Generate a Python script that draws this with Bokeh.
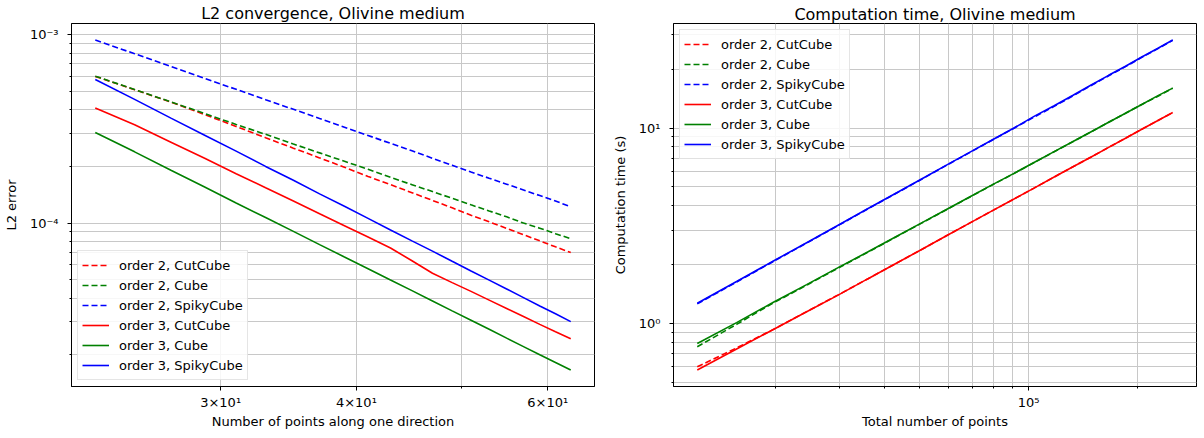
import math
from bokeh.plotting import figure
from bokeh.layouts import row
from bokeh.models import Range1d, FixedTicker, Legend, LegendItem, CustomJSTickFormatter, Title
from bokeh.embed import file_html
from bokeh.resources import INLINE

# ---------------- data ----------------
n_points = [23, 25, 27, 29, 31, 33, 35, 37, 39, 41, 43, 45, 47, 49, 51, 53, 55, 57, 59, 61, 63]

# L2 error
err_o2_cutcube = [6.01e-4, 5.11e-4, 4.39e-4, 3.77e-4, 3.26e-4, 2.84e-4, 2.50e-4, 2.22e-4, 1.98e-4, 1.77e-4,
                  1.60e-4, 1.45e-4, 1.32e-4, 1.205e-4, 1.10e-4, 1.016e-4, 9.38e-5, 8.67e-5, 8.05e-5, 7.48e-5, 6.98e-5]
err_o2_cube = [6.03e-4, 5.12e-4, 4.40e-4, 3.82e-4, 3.34e-4, 2.96e-4, 2.63e-4, 2.36e-4, 2.13e-4, 1.93e-4,
               1.75e-4, 1.60e-4, 1.47e-4, 1.355e-4, 1.25e-4, 1.16e-4, 1.08e-4, 1.00e-4, 9.40e-5, 8.79e-5, 8.26e-5]
err_o2_spiky = [9.38e-4, 7.93e-4, 6.78e-4, 5.87e-4, 5.13e-4, 4.52e-4, 4.02e-4, 3.59e-4, 3.23e-4, 2.92e-4,
                2.65e-4, 2.42e-4, 2.21e-4, 2.03e-4, 1.87e-4, 1.73e-4, 1.61e-4, 1.50e-4, 1.40e-4, 1.31e-4, 1.22e-4]
err_o3_cutcube = [4.09e-4, 3.33e-4, 2.69e-4, 2.21e-4, 1.83e-4, 1.54e-4, 1.31e-4, 1.12e-4, 9.68e-5, 8.43e-5,
                  7.38e-5, 6.31e-5, 5.42e-5, 4.83e-5, 4.34e-5, 3.90e-5, 3.52e-5, 3.19e-5, 2.90e-5, 2.65e-5, 2.43e-5]
err_o3_cube = [3.03e-4, 2.39e-4, 1.91e-4, 1.556e-4, 1.28e-4, 1.07e-4, 9.04e-5, 7.69e-5, 6.61e-5, 5.73e-5,
               4.99e-5, 4.38e-5, 3.86e-5, 3.42e-5, 3.05e-5, 2.73e-5, 2.45e-5, 2.21e-5, 2.00e-5, 1.82e-5, 1.66e-5]
err_o3_spiky = [5.79e-4, 4.54e-4, 3.61e-4, 2.93e-4, 2.41e-4, 2.00e-4, 1.69e-4, 1.43e-4, 1.23e-4, 1.06e-4,
                9.20e-5, 8.05e-5, 7.10e-5, 6.27e-5, 5.57e-5, 4.98e-5, 4.47e-5, 4.02e-5, 3.63e-5, 3.30e-5, 3.00e-5]

# computation time (s)
time_o2_cutcube = [0.60, 0.75, 0.93, 1.15, 1.40, 1.69, 2.02, 2.39, 2.81, 3.27,
                   3.78, 4.33, 4.94, 5.61, 6.34, 7.11, 7.96, 8.87, 9.86, 10.9, 12.0]
time_o2_cube = [0.76, 0.99, 1.27, 1.57, 1.92, 2.31, 2.76, 3.26, 3.82, 4.44,
                5.12, 5.85, 6.67, 7.56, 8.52, 9.56, 10.7, 11.9, 13.2, 14.5, 16.0]
time_o2_spiky = [1.26, 1.63, 2.07, 2.58, 3.17, 3.85, 4.61, 5.47, 6.44, 7.51,
                 8.69, 9.98, 11.4, 12.9, 14.6, 16.5, 18.5, 20.6, 23.0, 25.4, 28.1]
time_o3_cutcube = [0.578, 0.740, 0.929, 1.147, 1.396, 1.69, 2.02, 2.39, 2.81, 3.27,
                   3.78, 4.33, 4.94, 5.61, 6.34, 7.11, 7.96, 8.87, 9.86, 10.9, 12.0]
time_o3_cube = [0.79, 1.01, 1.28, 1.58, 1.93, 2.32, 2.77, 3.27, 3.83, 4.45,
                5.13, 5.86, 6.68, 7.57, 8.53, 9.57, 10.7, 11.9, 13.2, 14.6, 16.0]
time_o3_spiky = [1.27, 1.64, 2.08, 2.59, 3.18, 3.86, 4.62, 5.48, 6.46, 7.53,
                 8.71, 10.0, 11.5, 13.0, 14.7, 16.6, 18.6, 20.7, 23.1, 25.5, 28.2]

total_points = [n ** 3 for n in n_points]

labels = ["order 2, CutCube", "order 2, Cube", "order 2, SpikyCube",
          "order 3, CutCube", "order 3, Cube", "order 3, SpikyCube"]
colors = ["#ff0000", "#008000", "#0000ff", "#ff0000", "#008000", "#0000ff"]
dashes = ["6 3", "6 3", "6 3", "solid", "solid", "solid"]
err_series = [err_o2_cutcube, err_o2_cube, err_o2_spiky, err_o3_cutcube, err_o3_cube, err_o3_spiky]
time_series = [time_o2_cutcube, time_o2_cube, time_o2_spiky, time_o3_cutcube, time_o3_cube, time_o3_spiky]

FONT = "DejaVu Sans"
FRAME_W, FRAME_H = 523, 363

SUP_JS = """
const sup = {"-":"\u207b","0":"\u2070","1":"\u00b9","2":"\u00b2","3":"\u00b3","4":"\u2074",
             "5":"\u2075","6":"\u2076","7":"\u2077","8":"\u2078","9":"\u2079"};
const e = Math.floor(Math.log10(tick) + 1e-9);
const m = Math.round(tick / Math.pow(10, e));
const es = String(e).split("").map(c => sup[c]).join("");
if (m == 1) { return "10" + es; }
return m + "\u00d710" + es;
"""


def log_range(series_list, margin=0.05):
    vals = [v for s in series_list for v in s]
    lo, hi = min(vals), max(vals)
    span = math.log10(hi / lo)
    f = 10 ** (margin * span)
    return Range1d(lo / f, hi * f)


def decade_ticks(lo, hi):
    out = []
    e = math.floor(math.log10(lo)) - 1
    while 10 ** e <= hi * 10:
        for m in range(1, 10):
            v = m * 10 ** e
            if lo <= v <= hi:
                out.append(float(f"{v:.6g}"))
        e += 1
    return out


def make_fig(xs, ys_list, xlabel, ylabel, title, bl, br, title_standoff, ylab_standoff, xmajor, ymajor, legend_loc):
    xr = log_range([xs])
    yr = log_range(ys_list)
    p = figure(frame_width=FRAME_W, frame_height=FRAME_H, x_axis_type="log", y_axis_type="log",
               x_range=xr, y_range=yr, output_backend="svg", toolbar_location=None,
               min_border_left=bl, min_border_right=br, min_border_top=0, min_border_bottom=30)
    p.title = Title(text=title, align="center", text_font=FONT, text_font_size="16px",
                    text_font_style="normal", text_color="#000000", standoff=title_standoff, offset=0)
    p.outline_line_color = "#000000"
    p.outline_line_width = 1
    p.background_fill_color = "white"
    p.border_fill_color = "white"

    xt = decade_ticks(xr.start, xr.end)
    yt = decade_ticks(yr.start, yr.end)
    p.xaxis.ticker = FixedTicker(ticks=xmajor, minor_ticks=[t for t in xt if t not in xmajor])
    p.yaxis.ticker = FixedTicker(ticks=ymajor, minor_ticks=[t for t in yt if t not in ymajor])
    p.xaxis.formatter = CustomJSTickFormatter(code=SUP_JS)
    p.yaxis.formatter = CustomJSTickFormatter(code=SUP_JS)

    for ax in (p.xaxis, p.yaxis):
        ax.major_tick_in = 0
        ax.major_tick_out = 4
        ax.minor_tick_in = 0
        ax.minor_tick_out = 2
        ax.major_label_text_font = FONT
        ax.major_label_text_font_size = "13px"
        ax.major_label_text_color = "#000000"
        ax.axis_label_text_font = FONT
        ax.axis_label_text_font_size = "13px"
        ax.axis_label_text_font_style = "normal"
        ax.axis_label_text_color = "#000000"
        ax.axis_line_color = "#000000"
        ax.major_tick_line_color = "#000000"
        ax.minor_tick_line_color = "#000000"
    p.xaxis.major_label_standoff = 4
    p.yaxis.major_label_standoff = 9
    p.xaxis.axis_label = xlabel
    p.yaxis.axis_label = ylabel
    p.xaxis.axis_label_standoff = 1
    p.yaxis.axis_label_standoff = ylab_standoff

    for g in (p.xgrid, p.ygrid):
        g.grid_line_color = "#c8c8c8"
        g.grid_line_width = 1
        g.minor_grid_line_color = "#c8c8c8"
        g.minor_grid_line_width = 1

    items = []
    for ys, lab, c, d in zip(ys_list, labels, colors, dashes):
        r = p.line(xs, ys, line_color=c, line_width=1.6, line_dash=d)
        items.append(LegendItem(label=lab, renderers=[r]))
    leg = Legend(items=items, location=legend_loc, label_text_font=FONT, label_text_font_size="13px",
                 label_text_color="#000000", label_height=20, glyph_height=20, glyph_width=27,
                 label_standoff=10, spacing=0, padding=4, margin=6,
                 border_line_color="#cccccc", border_line_width=1,
                 background_fill_color="white", background_fill_alpha=0.85)
    p.add_layout(leg)
    return p


p1 = make_fig(n_points, err_series, "Number of points along one direction", "L2 error",
              "L2 convergence, Olivine medium", 63, 6, 2, 8,
              [30, 40, 60], [1e-4, 1e-3], "bottom_left")
p2 = make_fig(total_points, time_series, "Total number of points", "Computation time (s)",
              "Computation time, Olivine medium", 73, 1, 0, 8,
              [1e5], [1.0, 10.0], "top_left")

layout = row(p1, p2)
open("out.html", "w").write(file_html(layout, INLINE))
